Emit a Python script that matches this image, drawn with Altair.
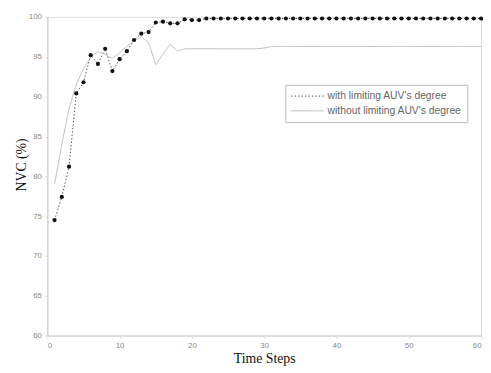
import altair as alt
import pandas as pd

steps = list(range(1, 61))
with_limit = [74.5, 77.4, 81.2, 90.4, 91.8, 95.2, 94.1, 96.0, 93.2, 94.7,
              95.7, 97.1, 97.9, 98.1, 99.3, 99.4, 99.2, 99.2, 99.7, 99.6,
              99.6, 99.8, 99.8, 99.8, 99.8, 99.8, 99.8, 99.8, 99.8, 99.8,
              99.8, 99.8, 99.8, 99.8, 99.8, 99.8, 99.8, 99.8, 99.8, 99.8,
              99.8, 99.8, 99.8, 99.8, 99.8, 99.8, 99.8, 99.8, 99.8, 99.8,
              99.8, 99.8, 99.8, 99.8, 99.8, 99.8, 99.8, 99.8, 99.8, 99.8]
without_limit = [79.0, 84.0, 88.5, 91.5, 93.5, 95.0, 95.6, 95.3, 94.8, 95.5,
                 96.3, 97.0, 97.5, 96.8, 94.0, 95.3, 96.6, 95.7, 96.0, 96.0,
                 96.0, 96.0, 96.0, 96.0, 96.0, 96.0, 96.0, 96.0, 96.0, 96.1,
                 96.3, 96.3, 96.3, 96.3, 96.3, 96.3, 96.3, 96.3, 96.3, 96.3,
                 96.3, 96.3, 96.3, 96.3, 96.3, 96.3, 96.3, 96.3, 96.3, 96.3,
                 96.3, 96.3, 96.3, 96.3, 96.3, 96.3, 96.3, 96.3, 96.3, 96.3]
series_names = ["with limiting AUV's degree", "without limiting AUV's degree"]

df = pd.DataFrame({
    "step": steps * 2,
    "nvc": with_limit + without_limit,
    "series": [series_names[0]] * len(steps) + [series_names[1]] * len(steps),
})

x = alt.X("step:Q", scale=alt.Scale(domain=[0, 60], nice=False),
          axis=alt.Axis(values=[0, 10, 20, 30, 40, 50, 60], title="Time Steps",
                        grid=False, tickSize=3, tickColor="#dddddd",
                        labelColor="#888888", labelFontSize=8, labelFont="Arial",
                        titleFont="Liberation Serif", titleFontSize=14,
                        titleFontWeight="normal", titleColor="#111111",
                        titlePadding=2, domainColor="#cccccc", labelPadding=3))
y = alt.Y("nvc:Q", scale=alt.Scale(domain=[60, 100], nice=False),
          axis=alt.Axis(values=[60, 65, 70, 75, 80, 85, 90, 95, 100], title="NVC (%)",
                        grid=False, tickSize=3, tickColor="#dddddd",
                        labelColor="#888888", labelFontSize=8, labelFont="Arial",
                        titleFont="Liberation Serif", titleFontSize=14,
                        titleFontWeight="normal", titleColor="#111111",
                        titleX=-26, titleY=150, titleBaseline="middle",
                        domainColor="#cccccc", labelPadding=3))

color = alt.Color("series:N", scale=alt.Scale(domain=series_names, range=["#555555", "#bbbbbb"]),
                  legend=alt.Legend(title=None, orient="none", legendX=242, legendY=69,
                                    strokeColor="#bbbbbb", padding=5, symbolType="stroke",
                                    symbolSize=1100, symbolStrokeWidth=1, clipHeight=13,
                                    labelFontSize=10.5, labelColor="#666666", labelFont="Arial",
                                    labelOffset=3, rowPadding=2, fillColor="white"))
dash = alt.StrokeDash("series:N", scale=alt.Scale(domain=series_names, range=[[1.5, 2], [1, 0]]),
                      legend=None)

lines = alt.Chart(df).mark_line(strokeWidth=1).encode(x=x, y=y, color=color, strokeDash=dash)
pts = alt.Chart(df[df["series"] == series_names[0]]).mark_point(
    shape="circle", filled=True, size=18, color="#111111", opacity=1
).encode(x=x, y=y)

chart = alt.layer(lines, pts).properties(
    width=441, height=324,
    autosize=alt.AutoSizeParams(type="none"),
    padding={"left": 40, "top": 6, "right": 2, "bottom": 35},
).configure_view(stroke="#cccccc", strokeWidth=1).configure(background="white")

chart.save("out.html", embed_options={"renderer": "svg", "actions": False})
